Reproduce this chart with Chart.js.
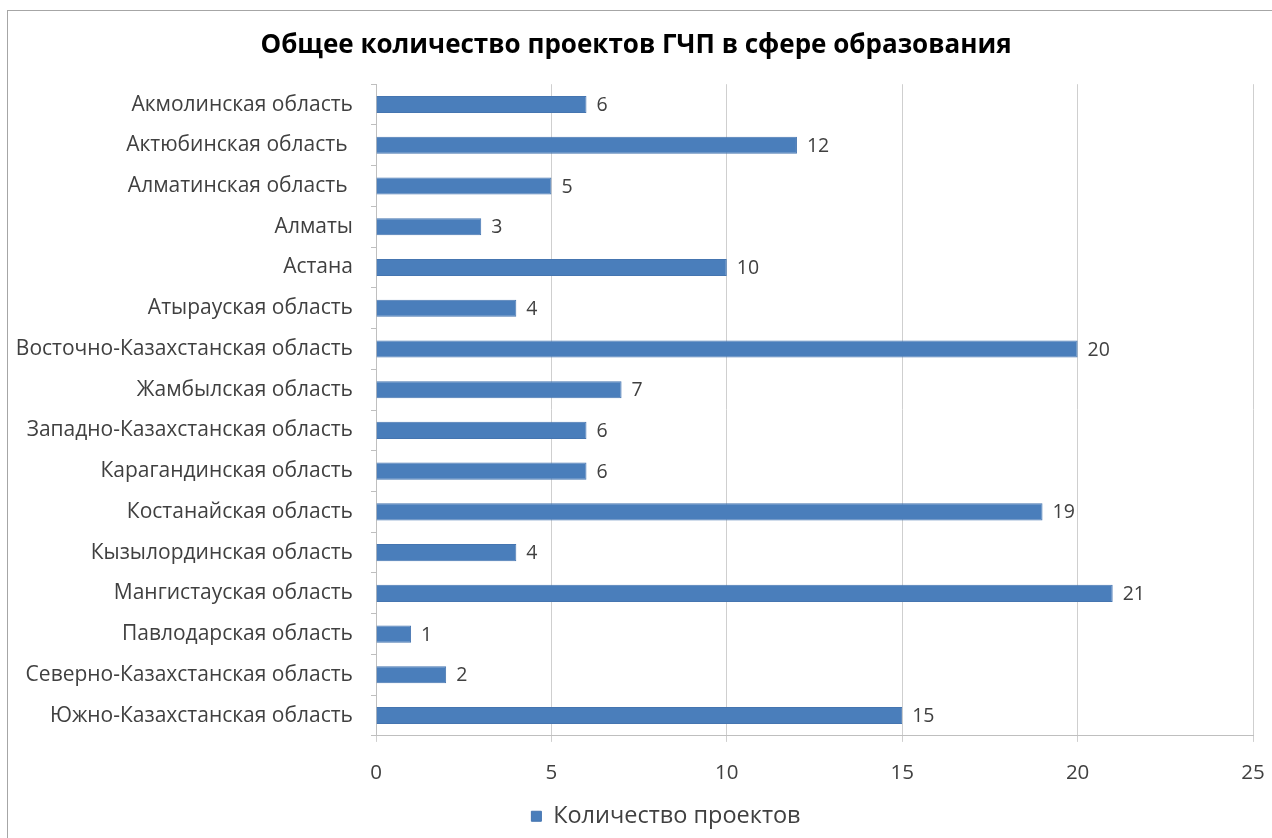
<!DOCTYPE html>
<html>
<head>
<meta charset="utf-8">
<script src="https://cdn.jsdelivr.net/npm/chart.js@4/dist/chart.umd.min.js"></script>
<style>
  html, body { margin: 0; padding: 0; background: #fff; overflow: hidden; }
  #wrap { position: relative; width: 1272px; height: 838px; }
  canvas { display: block; }
</style>
</head>
<body>
<div id="wrap"><canvas id="chart"></canvas></div>
<script>
const regions = [
  "Акмолинская область",
  "Актюбинская область ",
  "Алматинская область ",
  "Алматы",
  "Астана",
  "Атырауская область",
  "Восточно-Казахстанская область",
  "Жамбылская область",
  "Западно-Казахстанская область",
  "Карагандинская область",
  "Костанайская область",
  "Кызылординская область",
  "Мангистауская область",
  "Павлодарская область",
  "Северно-Казахстанская область",
  "Южно-Казахстанская область",
];
const projectCounts = [6, 12, 5, 3, 10, 4, 20, 7, 6, 6, 19, 4, 21, 1, 2, 15];
const seriesName = "Количество проектов";
const chartTitle = "Общее количество проектов ГЧП в сфере образования";
const xMin = 0, xMax = 25, xStep = 5;

const FONT = "'Open Sans', Lato, sans-serif";

// frame around the whole chart, legend nudged right like the original
const framePlugin = {
  id: "frame",
  afterLayout(chart) {
    chart.legend.left += 30;
    chart.legend.right += 30;
  },
  beforeDraw(chart) {
    const ctx = chart.ctx;
    ctx.save();
    ctx.strokeStyle = "#a6a6a6";
    ctx.lineWidth = 1;
    ctx.strokeRect(7.5, 10.5, 1300, 900);
    ctx.restore();
  },
};

// value labels to the right of each bar
const valueLabels = {
  id: "valueLabels",
  afterDatasetsDraw(chart) {
    const ctx = chart.ctx;
    ctx.save();
    ctx.font = "19.5px " + FONT;
    ctx.fillStyle = "#404040";
    ctx.textBaseline = "middle";
    ctx.textAlign = "left";
    chart.getDatasetMeta(0).data.forEach((bar, i) => {
      ctx.fillText(projectCounts[i], bar.x + 10, bar.y + 1);
    });
    ctx.restore();
  },
};

const ctx = document.getElementById("chart").getContext("2d");
new Chart(ctx, {
  type: "bar",
  data: {
    labels: regions,
    datasets: [
      {
        label: seriesName,
        data: projectCounts,
        backgroundColor: "#4a7ebb",
        borderColor: "#4575b0",
        borderWidth: 1,
        barPercentage: 0.42,
        categoryPercentage: 1,
      },
    ],
  },
  options: {
    indexAxis: "y",
    responsive: true,
    maintainAspectRatio: false,
    animation: false,
    layout: { padding: { left: 0, right: 0, top: 0, bottom: 0 } },
    plugins: {
      title: {
        display: true,
        text: chartTitle,
        color: "#000",
        font: { family: FONT, size: 26, weight: "bold" },
        padding: { top: 30, bottom: 23 },
      },
      legend: {
        display: true,
        position: "bottom",
        labels: {
          color: "#404040",
          font: { family: FONT, size: 23.5 },
          boxWidth: 10,
          boxHeight: 10,
          padding: 10,
        },
      },
      tooltip: { enabled: false },
    },
    scales: {
      x: {
        min: xMin,
        max: xMax,
        afterFit(scale) {
          scale.height -= 10;
          scale.paddingRight = 19;
        },
        ticks: {
          stepSize: xStep,
          color: "#404040",
          font: { family: FONT, size: 20.5 },
          padding: 19,
        },
        grid: { color: "#cfcfcf", tickLength: 6 },
        border: { color: "#bfbfbf" },
      },
      y: {
        afterFit(scale) { scale.width = 376; },
        ticks: {
          color: "#404040",
          font: { family: FONT, size: 21 },
          padding: 18,
          autoSkip: false,
        },
        grid: { drawOnChartArea: false, color: "#bfbfbf", tickLength: 5 },
        border: { color: "#bfbfbf" },
      },
    },
  },
  plugins: [framePlugin, valueLabels],
});
</script>
</body>
</html>
